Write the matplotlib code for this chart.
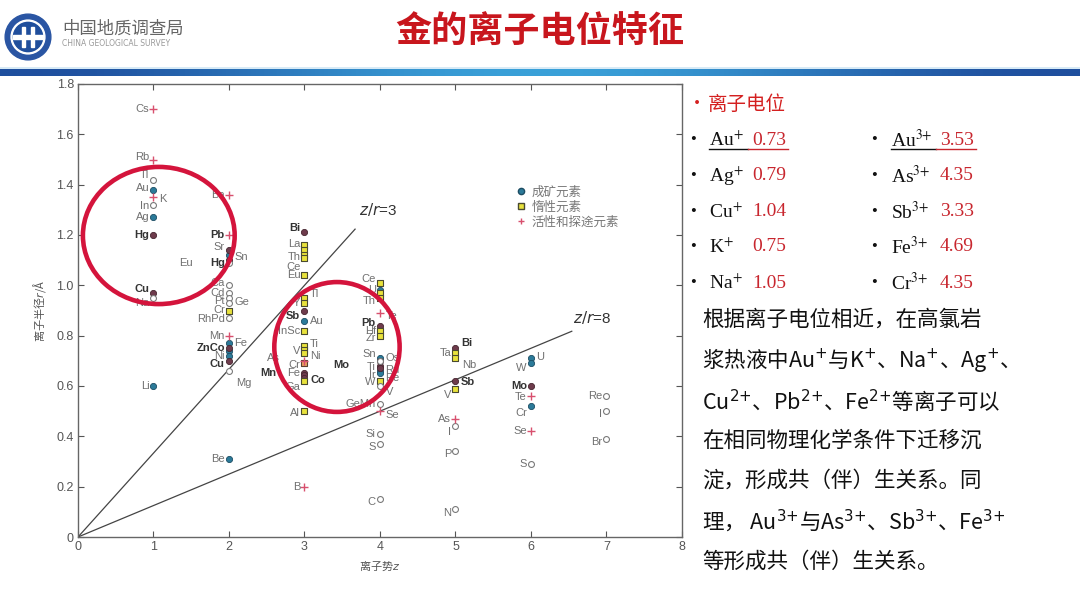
import numpy as np
import matplotlib
matplotlib.use("Agg")
import matplotlib.pyplot as plt
from matplotlib.patches import Ellipse, Circle, Rectangle
from matplotlib.lines import Line2D

plt.rcParams['font.family'] = ['Noto Sans CJK SC', 'DejaVu Sans']

# ---- data: ion potential z vs. ionic radius r ----
elements = ["Cs", "Rb", "Tl", "Au", "K", "In", "Ag", "Hg", "Cu", "Na", "Li",
            "Ba", "Pb", "Sr", "Sn", "Hg", "Eu", "Ca", "Cd", "Pt", "Ge", "Cr", "RhPd",
            "Mn", "Fe", "ZnCo", "", "Ni", "Cu", "Mg", "Be",
            "Bi", "La", "", "Th", "Ce", "Eu", "Tl", "Y", "Sb", "Au", "InSc", "Ti", "V",
            "Ni", "As", "Cr", "Mn", "Fe", "Co", "Ga", "Al", "B",
            "Ce", "U", "", "Th", "Te", "Pb", "Hf", "Zr", "Sn", "Os", "Mo", "Ti", "Ru",
            "Ir", "Re", "W", "V", "GeMn", "Se", "Si", "S", "C",
            "Bi", "Ta", "Nb", "Sb", "V", "As", "I", "P", "N",
            "U", "W", "Mo", "Te", "Cr", "Se", "S",
            "Re", "I", "Br"]
charge_z = [1] * 11 + [2] * 20 + [3] * 22 + [4] * 22 + [5] * 9 + [6] * 7 + [7] * 3
radius_r = [1.70, 1.50, 1.42, 1.38, 1.35, 1.32, 1.27, 1.20, 0.97, 0.95, 0.60,
            1.36, 1.20, 1.14, 1.12, 1.10, 1.09, 1.00, 0.97, 0.95, 0.93, 0.90, 0.87,
            0.80, 0.77, 0.75, 0.74, 0.72, 0.70, 0.66, 0.31,
            1.21, 1.16, 1.14, 1.12, 1.11, 1.04, 0.95, 0.93, 0.90, 0.86, 0.82, 0.76, 0.745,
            0.73, 0.70, 0.69, 0.65, 0.645, 0.63, 0.62, 0.50, 0.20,
            1.01, 0.98, 0.97, 0.95, 0.89, 0.84, 0.82, 0.80, 0.71, 0.70, 0.70, 0.68, 0.67,
            0.66, 0.65, 0.62, 0.60, 0.53, 0.50, 0.41, 0.37, 0.15,
            0.75, 0.73, 0.71, 0.62, 0.59, 0.47, 0.44, 0.34, 0.11,
            0.71, 0.69, 0.60, 0.56, 0.52, 0.42, 0.29,
            0.56, 0.50, 0.39]
# T = ore-forming (teal), D = dark ore, Y = inert, A = active/pathfinder, O = other, R = orange
kind = list("AAOTAOTDDOT" "AADTDOOOOOYOATDTTDOT" "DYYYYYYYDTYYYYARDDDYYA"
            "YTYYADYYTODDDTTYOOAOOO" "DYYDYAOOO" "TTDATAO" "OOO")
bold_idx = {7, 8, 12, 15, 25, 28, 31, 39, 47, 49, 58, 63, 75, 78, 86}

legend_labels = ["成矿元素", "惰性元素", "活性和探途元素"]

left_list = [("Au", "+", "0.73"), ("Ag", "+", "0.79"), ("Cu", "+", "1.04"),
             ("K", "+", "0.75"), ("Na", "+", "1.05")]
right_list = [("Au", "3+", "3.53"), ("As", "3+", "4.35"), ("Sb", "3+", "3.33"),
              ("Fe", "3+", "4.69"), ("Cr", "3+", "4.35")]

para_lines = ["根据离子电位相近，在高氯岩",
              "浆热液中Au$^{{+}}$与K$^{{+}}$、Na$^{{+}}$、Ag$^{{+}}$、",
              "Cu$^{2{+}}$、Pb$^{2{+}}$、Fe$^{2{+}}$等离子可以",
              "在相同物理化学条件下迁移沉",
              "淀，形成共（伴）生关系。同",
              "理， Au$^{3{+}}$与As$^{3{+}}$、Sb$^{3{+}}$、Fe$^{3{+}}$",
              "等形成共（伴）生关系。"]

# ---- label placement (points offset from marker) ----
label_offsets = [(-3, 0), (-3, 2), (-3, 3), (-3, 1), (4, -1), (-3, -1), (-3, 0), (-3, 0),
                 (-3, 3), (-3, -4), (-3, 0),
                 (-3, 0), (-3, 0), (-3, 2), (4, -1), (-3, -2), (-26, 0), (-3, 2), (-3, 0),
                 (-3, -2), (4, 1), (-3, 0), (-3, -1), (-3, 0), (4, 0), (-3, 0), (0, 0),
                 (-3, 0), (-3, -2), (5, -9), (-3, 0),
                 (-3, 3), (-3, 1), (0, 0), (-3, -1), (-3, -7), (-3, 0), (4, 3), (-3, 0),
                 (-3, -4), (4, 0), (-3, 0), (4, 1), (-3, -1), (4, -2), (-18, 2), (-3, -1),
                 (-20, 0), (-3, 1), (4, -1), (-3, -4), (-3, -1), (-3, 0),
                 (-3, 3), (-3, 0), (0, 0), (-3, -2), (4, -2), (-3, 2), (-3, 0), (-3, -2),
                 (-3, 3), (4, 2), (-22, -3), (-3, -1), (4, -1), (-3, -3), (4, -3), (-3, -1),
                 (4, -4), (-3, 0), (4, -3), (-3, 0), (-3, -2), (-3, -2),
                 (4, 4), (-3, 0), (5, -5), (4, -1), (-3, -5), (-3, 0), (-3, -4), (-3, -2),
                 (-3, -3),
                 (4, 1), (-3, -3), (-3, 0), (-3, -1), (-3, -5), (-3, 0), (-3, 0),
                 (-3, 0), (-3, -2), (-3, -2)]

styles = {
    "T": dict(marker="o", s=20, facecolor="#2b7a99", edgecolor="#1d4d63", linewidths=0.6),
    "D": dict(marker="o", s=20, facecolor="#6e3b4c", edgecolor="#45252f", linewidths=0.6),
    "Y": dict(marker="s", s=22, facecolor="#e8e23c", edgecolor="#4a4a30", linewidths=0.8),
    "R": dict(marker="s", s=22, facecolor="#e8a060", edgecolor="#5a4030", linewidths=0.8),
    "O": dict(marker="o", s=18, facecolor="white", edgecolor="#7a7a7a", linewidths=0.8),
    "A": dict(marker="+", s=40, color="#d8506e", linewidths=1.0),
}

W, H = 1080, 607
fig = plt.figure(figsize=(W / 100, H / 100), dpi=100)
fig.patch.set_facecolor("white")


def fx(x):
    return x / W


def fy(y):
    return 1 - y / H


# ---- header ----
logo = fig.add_axes([fx(4), fy(61), fx(48), 48 / H])
logo.set_xlim(-1.05, 1.05)
logo.set_ylim(-1.05, 1.05)
logo.set_aspect("equal")
logo.axis("off")
logo.add_patch(Circle((0, 0), 1.0, color="#2a55a3"))
logo.add_patch(Circle((0, 0), 0.74, color="white"))
logo.add_patch(Circle((0, 0), 0.64, color="#1f4e9c"))
logo.add_patch(Rectangle((-0.64, -0.08), 1.28, 0.16, color="white"))
logo.add_patch(Rectangle((-0.28, -0.45), 0.14, 0.9, color="white"))
logo.add_patch(Rectangle((0.14, -0.45), 0.14, 0.9, color="white"))

fig.text(fx(62), fy(29), "中国地质调查局", fontsize=12.5, color="#666", va="center")
fig.text(fx(62), fy(44), "CHINA GEOLOGICAL SURVEY", fontsize=5.5, color="#999",
         va="center", family=["DejaVu Sans"])
fig.text(fx(540), fy(32), "金的离子电位特征", fontsize=26, color="#c8161d",
         weight="bold", ha="center", va="center")

bar = fig.add_axes([0, fy(76), 1, 7 / H])
bar.axis("off")
t = np.linspace(0, 1, 400)
grad = 0.5 + 0.5 * np.cos(np.pi * (2 * t - 1))
cmap = matplotlib.colors.LinearSegmentedColormap.from_list(
    "bar", ["#1f4f9e", "#3aa0d8"])
bar.imshow(grad[None, :], aspect="auto", cmap=cmap, extent=[0, 1, 0, 1])
fig.add_artist(Line2D([0, 1], [fy(67.5), fy(67.5)], color="#cfe6f5", lw=1.2))

# ---- scatter plot ----
ax = fig.add_axes([fx(78), fy(537), fx(604), 453 / H])
ax.set_xlim(0, 8)
ax.set_ylim(0, 1.8)

for k, st in styles.items():
    sel = [i for i, kk in enumerate(kind) if kk == k]
    ax.scatter([charge_z[i] for i in sel], [radius_r[i] for i in sel], zorder=3, **st)

for i, name in enumerate(elements):
    if not name:
        continue
    dx, dy = label_offsets[i]
    is_bold = i in bold_idx
    ax.annotate(name, (charge_z[i], radius_r[i]), xytext=(dx, dy),
                textcoords="offset points", ha="left" if dx > 0 else "right",
                va="center", fontsize=8, family=["Liberation Sans", "DejaVu Sans"],
                color="#333" if is_bold else "#707070",
                weight="bold" if is_bold else "normal", zorder=4)

for ratio, xend in [(3, 3.67), (8, 6.54)]:
    xs = np.array([0, xend])
    ax.plot(xs, xs / ratio, color="#444", lw=0.9, zorder=2)
ax.text(3.72, 1.28, r"$z/r$=3", fontsize=11, color="#333",
        family=["Liberation Sans"], math_fontfamily="dejavusans")
ax.text(6.55, 0.85, r"$z/r$=8", fontsize=11, color="#333",
        family=["Liberation Sans"], math_fontfamily="dejavusans")

ax.add_patch(Ellipse((1.07, 1.198), 2.01, 0.545, fill=False, edgecolor="#d4143c",
                     lw=3.3, zorder=5))
ax.add_patch(Ellipse((3.43, 0.755), 1.66, 0.516, fill=False, edgecolor="#d4143c",
                     lw=3.3, zorder=5))

ax.set_xticks(range(9))
ax.set_yticks(np.arange(0, 1.81, 0.2))
ax.set_yticklabels(["0"] + ["%.1f" % v for v in np.arange(0.2, 1.81, 0.2)])
ax.tick_params(direction="in", top=True, right=True, length=4, width=0.8,
               colors="#555", labelsize=9, pad=3)
for lab in ax.get_xticklabels() + ax.get_yticklabels():
    lab.set_family(["Liberation Sans", "DejaVu Sans"])
for sp in ax.spines.values():
    sp.set_color("#666")
    sp.set_linewidth(1.0)
ax.set_xlabel("离子势$z$", fontsize=8, color="#555", labelpad=4)
ax.set_ylabel("离子半径$r$/Å", fontsize=8, color="#555", labelpad=6)

handles = [
    Line2D([], [], ls="none", marker="o", ms=4.5, mfc="#2b7a99", mec="#1d4d63"),
    Line2D([], [], ls="none", marker="s", ms=4.5, mfc="#e8e23c", mec="#4a4a30"),
    Line2D([], [], ls="none", marker="+", ms=5, mec="#d8506e"),
]
ax.legend(handles, legend_labels, loc="upper left", bbox_to_anchor=(0.705, 0.8),
          frameon=False, fontsize=9, handletextpad=0.3, labelspacing=0.15,
          handlelength=1.0, labelcolor="#777")

# ---- right-hand text ----
fig.text(fx(688), fy(104), "•", fontsize=13, color="#d42020", va="center")
fig.text(fx(708), fy(104), "离子电位", fontsize=14, color="#d42020", va="center")

row_y = [140, 176, 212, 247, 283]
serif = ["Liberation Serif", "DejaVu Serif"]
for cols, (bx, lx, vx) in [(left_list, (690, 709, 752)), (right_list, (871, 891, 940))]:
    for j, (el, chg, val) in enumerate(cols):
        y = row_y[j]
        sup = chg.replace("+", "{+}")
        fig.text(fx(bx), fy(y), "•", fontsize=12, color="#111", va="center", family=serif)
        fig.text(fx(lx), fy(y), el + "$^{" + sup + "}$", fontsize=14, color="#111",
                 va="center", family=serif, math_fontfamily="stix")
        fig.text(fx(vx), fy(y), val, fontsize=14, color="#c8262e", va="center",
                 family=serif)
        if j == 0:
            fig.add_artist(Line2D([fx(lx), fx(vx - 4)], [fy(y + 9), fy(y + 9)],
                                  color="#111", lw=1.0))
            fig.add_artist(Line2D([fx(vx - 4), fx(vx + 36)], [fy(y + 9), fy(y + 9)],
                                  color="#c8262e", lw=1.0))

para_y = [320, 360, 401, 441, 481, 521, 562]
for line, y in zip(para_lines, para_y):
    fig.text(fx(702), fy(y), line, fontsize=15.5, color="#111", va="center",
             weight="medium", math_fontfamily="dejavusans")

fig.savefig("out.png", dpi=100)
